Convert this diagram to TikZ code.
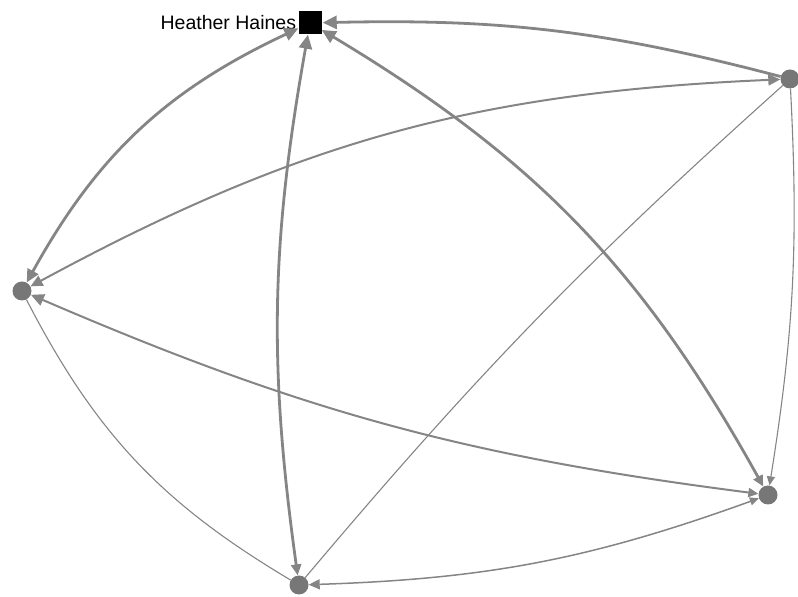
\documentclass[tikz,border=0pt]{standalone}
\usepackage{fontspec}
\setmainfont{Liberation Sans}
\usetikzlibrary{arrows.meta}
\definecolor{edgegray}{HTML}{858585}
\definecolor{nodegray}{HTML}{777777}
\tikzset{
  person/.style={circle,fill=nodegray,inner sep=0pt,minimum size=19pt},
  target/.style={rectangle,fill=black,inner sep=0pt,minimum size=23pt},
  link/.style={draw=edgegray,line width=1.1pt},
  midlink/.style={draw=edgegray,line width=2pt},
  heavylink/.style={draw=edgegray,line width=2.8pt},
  tipsmall/.style={-{Triangle[length=9pt,width=8pt]}},
}
\begin{document}
\begin{tikzpicture}[x=1pt,y=1pt]
\useasboundingbox (0,0) rectangle (798,597);
\node[target] (H) at (310,574) {};
\node[anchor=east,font=\fontsize{19.5}{22}\selectfont,inner sep=1pt] (Hl) at ([xshift=-1pt]H.west) {Heather Haines};
\node[person] (R) at (790,518) {};
\node[person] (L) at (22,306) {};
\node[person] (BR) at (768,102) {};
\node[person] (B) at (299,12) {};
% edges
\draw[heavylink,-{Triangle[length=14pt,width=13pt]},shorten >=1pt] (R) to[bend right=8] (H);
\draw[heavylink,{Triangle[length=14pt,width=13pt]}-{Triangle[length=13pt,width=12pt]}] (H) to[bend right=18] (L);
\draw[heavylink,{Triangle[length=14pt,width=13pt]}-{Triangle[length=11pt,width=10pt]}] (H) to[bend right=9] (B);
\draw[heavylink,{Triangle[length=14pt,width=13pt]}-{Triangle[length=11pt,width=10pt]}] (H) to[bend left=15] (BR);
\draw[midlink,{Triangle[length=12pt,width=11pt]}-{Triangle[length=12pt,width=11pt]}] (L) to[bend left=13] (R);
\draw[midlink,{Triangle[length=13pt,width=12pt]}-{Triangle[length=10pt,width=9pt]}] (L) to[bend right=8] (BR);
\draw[link] (L) to[bend right=16] (B);
\draw[link] (B) to[bend left=4] (R);
\draw[link,tipsmall] (R) to[bend left=6] (BR);
\draw[link,line width=1.5pt,{Triangle[length=9pt,width=8pt]}-{Triangle[length=11pt,width=10pt]}] (BR) to[bend left=9] (B);
\end{tikzpicture}
\end{document}
